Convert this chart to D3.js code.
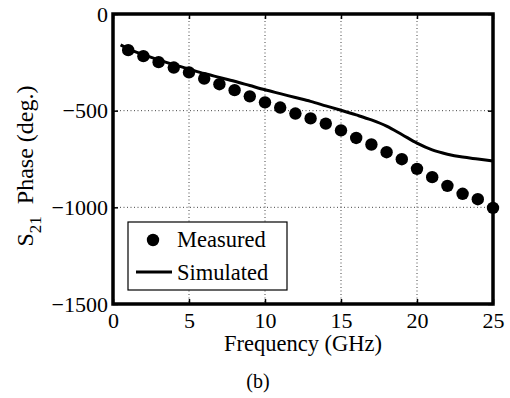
<!DOCTYPE html>
<html>
<head>
<meta charset="utf-8">
<script src="https://cdn.jsdelivr.net/npm/d3@7"></script>
<style>
  body { margin: 0; background: #fff; }
  svg { display: block; font-family: "Liberation Serif", "Times New Roman", serif; }
</style>
</head>
<body>
<svg id="chart" width="510" height="398"></svg>
<script>
// measured S21 phase, one point per GHz
const measFreq = [1,2,3,4,5,6,7,8,9,10,11,12,13,14,15,16,17,18,19,20,21,22,23,24,25];
const measPhase = [-187,-218,-249,-277,-302,-334,-363,-394,-426,-457,-484,-515,-540,-567,-602,-641,-675,-715,-751,-801,-844,-889,-930,-958,-1003];

// simulated curve
const simFreq = [0.5,1,2,3,4,5,6,7,8,9,10,11,12,13,14,15,16,17,18,19,20,21,22,23,24,25];
const simPhase = [-160,-180,-210,-237,-262,-285,-308,-328,-348,-370,-392,-412,-432,-452,-475,-498,-522,-548,-580,-623,-668,-703,-725,-740,-750,-760];

const xTicks = [0,5,10,15,20,25];
const yTicks = [-1500,-1000,-500,0];
const legendLabels = ['Measured','Simulated'];

const svg = d3.select('#chart');

// scales
const x = d3.scaleLinear().domain([0,25]).range([113,493]);
const y = d3.scaleLinear().domain([-1500,0]).range([304,14]);

// dotted grid
const grid = svg.append('g');
grid.selectAll('line.gx')
  .data(xTicks.filter(d => d > 0 && d < 25))
  .enter().append('line')
  .attr('x1', d => x(d)).attr('x2', d => x(d))
  .attr('y1', y(0)).attr('y2', y(-1500))
  .attr('stroke', '#444').attr('stroke-width', 1)
  .attr('stroke-dasharray', '1,2.5');
grid.selectAll('line.gy')
  .data(yTicks.filter(d => d > -1500 && d < 0))
  .enter().append('line')
  .attr('y1', d => y(d)).attr('y2', d => y(d))
  .attr('x1', x(0)).attr('x2', x(25))
  .attr('stroke', '#444').attr('stroke-width', 1)
  .attr('stroke-dasharray', '1,2.5');

// axes with inward ticks
const fmt = d => d3.format('')(d).replace('-', '\u2212');

svg.append('g')
  .attr('transform', `translate(0,${y(-1500)})`)
  .call(d3.axisBottom(x).tickValues(xTicks).tickSizeInner(-5).tickSizeOuter(0).tickPadding(8).tickFormat(fmt));

svg.append('g')
  .attr('transform', `translate(${x(0)},0)`)
  .call(d3.axisLeft(y).tickValues(yTicks).tickSizeInner(-5).tickSizeOuter(0).tickPadding(5).tickFormat(fmt));

svg.append('g')
  .attr('transform', `translate(0,${y(0)})`)
  .call(d3.axisTop(x).tickValues(xTicks).tickSizeInner(-5).tickSizeOuter(0).tickFormat(''));

svg.append('g')
  .attr('transform', `translate(${x(25)},0)`)
  .call(d3.axisRight(y).tickValues(yTicks).tickSizeInner(-5).tickSizeOuter(0).tickFormat(''));

svg.selectAll('.domain').remove();
svg.selectAll('.tick line').attr('stroke', '#000').attr('stroke-width', 1.5);
svg.selectAll('.tick text')
  .attr('font-family', '"Liberation Serif", serif')
  .attr('font-size', 22)
  .attr('fill', '#000');

// frame
svg.append('rect')
  .attr('x', x(0)).attr('y', y(0))
  .attr('width', x(25) - x(0)).attr('height', y(-1500) - y(0))
  .attr('fill', 'none').attr('stroke', '#000').attr('stroke-width', 3.5);

// simulated line
const sim = simFreq.map((f, i) => ({f, p: simPhase[i]}));
const lineGen = d3.line()
  .x(d => x(d.f))
  .y(d => y(d.p))
  .curve(d3.curveMonotoneX);

svg.append('path')
  .datum(sim)
  .attr('d', lineGen)
  .attr('fill', 'none')
  .attr('stroke', '#000')
  .attr('stroke-width', 3);

// measured points
svg.selectAll('circle.meas')
  .data(measFreq.map((f, i) => ({f, p: measPhase[i]})))
  .enter().append('circle')
  .attr('cx', d => x(d.f))
  .attr('cy', d => y(d.p))
  .attr('r', 6.2)
  .attr('fill', '#000');

// legend
const lg = svg.append('g');
lg.append('rect')
  .attr('x', 128).attr('y', 222)
  .attr('width', 159).attr('height', 68)
  .attr('fill', '#fff').attr('stroke', '#000').attr('stroke-width', 1.2);
lg.append('circle').attr('cx', 153).attr('cy', 240).attr('r', 6.2).attr('fill', '#000');
lg.append('line')
  .attr('x1', 136).attr('x2', 172).attr('y1', 272).attr('y2', 272)
  .attr('stroke', '#000').attr('stroke-width', 3);
lg.selectAll('text')
  .data(legendLabels)
  .enter().append('text')
  .attr('x', 177)
  .attr('y', (d, i) => 247 + i * 33)
  .attr('font-size', 22.5)
  .text(d => d);

// axis labels
svg.append('text')
  .attr('x', x(12.5)).attr('y', 351)
  .attr('text-anchor', 'middle')
  .attr('font-size', 22.5)
  .text('Frequency (GHz)');

const yl = svg.append('text')
  .attr('transform', 'translate(33,166) rotate(-90)')
  .attr('text-anchor', 'middle')
  .attr('font-size', 24);
yl.append('tspan').text('S');
yl.append('tspan').attr('font-size', 17).attr('dy', 8).text('21');
yl.append('tspan').attr('dy', -8).text('\u2002Phase (deg.)');

svg.append('text')
  .attr('x', 258).attr('y', 388)
  .attr('text-anchor', 'middle')
  .attr('font-size', 20)
  .text('(b)');
</script>
</body>
</html>
